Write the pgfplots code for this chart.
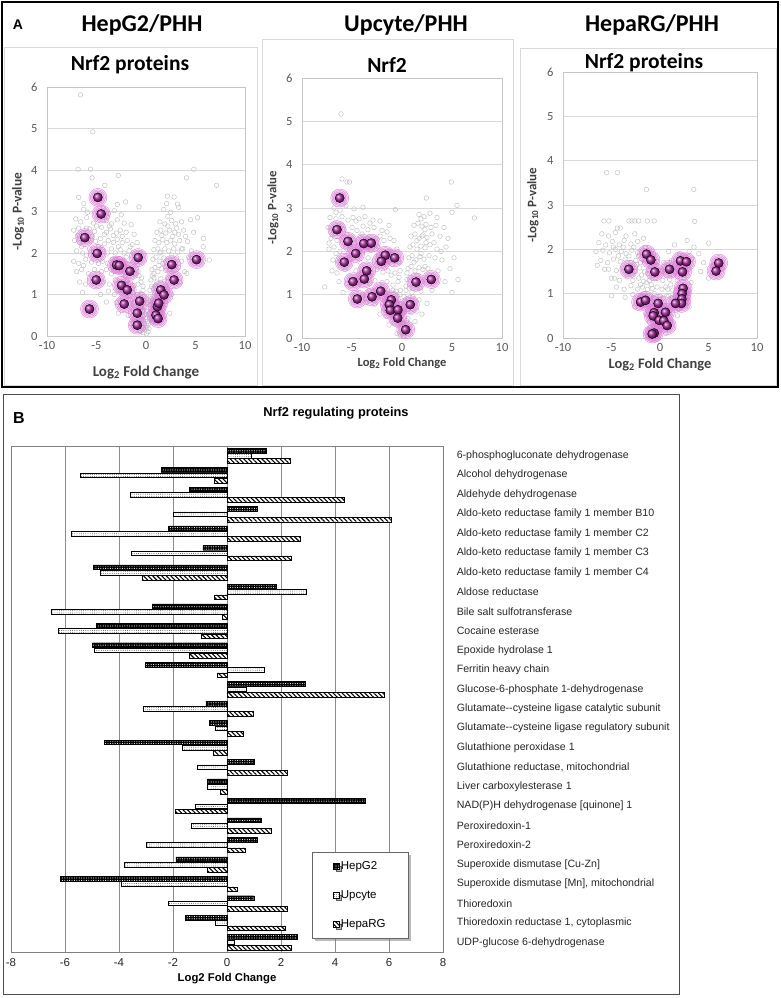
\documentclass[border=0pt]{standalone}
\usepackage{pgfplots}
\usepackage{pgfplotstable}
\pgfplotsset{compat=1.18}
\usepackage{fontspec}
\setmainfont{Liberation Sans}
\newfontfamily\carlito{Carlito}
\usetikzlibrary{patterns,patterns.meta,shadows}
\definecolor{gridgray}{RGB}{217,217,217}
\definecolor{ticktext}{RGB}{89,89,89}
\definecolor{labtext}{RGB}{64,64,64}
\definecolor{ballcol}{RGB}{165,45,155}
\definecolor{halo}{RGB}{222,125,218}
\definecolor{greypt}{RGB}{196,196,196}

% ---------- volcano data ----------
\pgfplotstableread[row sep=\\]{x y\\
-6.62 5.81\\ -5.37 4.92\\ -6.86 4.02\\ -5.6 4.02\\ -5.44 3.81\\ -2.8 3.87\\ -4.16 3.63\\ 4.83 4.02\\ 4.09 3.81\\ 7.13 3.63\\
2.16 3.37\\ 2.84 3.35\\ 2.09 3.19\\ 3.18 3.18\\ -0.71 3.11\\ -2.06 3.23\\ -2.9 3.17\\ -6.8 3.34\\ -6.28 3.19\\ 5.2 2.85\\
5.81 2.35\\ 6.39 1.83\\ 5.78 2.15\\ 4.12 1.51\\
-6.3 3.05\\ -5.9 2.98\\ -4.3 3.08\\ -3.8 2.95\\ -3.2 3.02\\ -2.5 2.92\\
-7.1 2.82\\ -6.6 2.75\\ -6.0 2.85\\ -5.3 2.72\\ -4.0 2.78\\ -3.5 2.7\\ -2.9 2.8\\ -2.2 2.72\\ -1.5 2.68\\
-7.3 2.55\\ -6.8 2.6\\ -6.3 2.5\\ -5.7 2.58\\ -5.2 2.52\\ -4.5 2.62\\ -4.0 2.5\\ -3.6 2.58\\ -3.0 2.48\\ -2.6 2.55\\ -2.0 2.5\\ -1.2 2.45\\
-7.2 2.3\\ -6.7 2.25\\ -5.6 2.3\\ -5.1 2.28\\ -4.6 2.35\\ -4.2 2.22\\ -3.8 2.3\\ -3.3 2.25\\ -2.9 2.33\\ -2.4 2.25\\ -1.9 2.3\\ -1.4 2.2\\ -0.9 2.25\\
-7.0 2.05\\ -6.4 2.0\\ -5.7 2.1\\ -5.3 2.02\\ -4.4 2.08\\ -3.9 2.0\\ -3.5 2.1\\ -3.1 2.0\\ -2.6 2.08\\ -2.2 2.0\\ -1.7 2.05\\ -1.2 1.98\\ -0.6 2.0\\
-7.3 1.8\\ -6.8 1.75\\ -6.1 1.85\\ -5.5 1.78\\ -4.4 1.8\\ -3.9 1.75\\ -3.4 1.85\\ -2.3 1.8\\ -1.9 1.75\\ -1.3 1.78\\ -0.9 1.7\\
-7.0 1.55\\ -6.5 1.6\\ -5.8 1.5\\ -4.5 1.55\\ -4.0 1.6\\ -3.5 1.5\\ -2.9 1.55\\ -2.4 1.48\\ -1.9 1.35\\ -1.1 1.5\\ -0.7 1.45\\
-6.7 1.3\\ -6.1 1.25\\ -4.3 1.3\\ -3.7 1.25\\ -3.1 1.35\\ -2.7 1.28\\ -1.6 1.3\\ -1.2 1.22\\ -0.8 1.25\\ -0.5 1.3\\
-6.4 1.05\\ -4.6 1.0\\ -3.8 1.08\\ -3.2 1.0\\ -2.8 1.1\\ -1.7 0.98\\ -1.3 1.05\\ -0.9 1.0\\ -0.5 1.02\\ -0.3 1.1\\
-4.0 0.82\\ -3.0 0.8\\ -2.6 0.85\\ -1.6 0.78\\ -1.2 0.82\\ -0.7 0.75\\ -0.4 0.8\\ -0.2 0.85\\
-2.8 0.55\\ -1.8 0.5\\ -1.3 0.58\\ -0.6 0.52\\ -0.35 0.6\\ -0.15 0.5\\
-1.5 0.3\\ -1.0 0.35\\ -0.5 0.28\\ -0.3 0.38\\ -0.1 0.3\\
-0.6 0.12\\ -0.3 0.08\\ -0.1 0.15\\ 0.05 0.05\\ 0.2 0.1\\
1.8 3.05\\ 2.5 2.98\\ 3.3 3.1\\ 2.2 2.88\\
1.4 2.75\\ 1.9 2.7\\ 2.6 2.78\\ 3.0 2.7\\ 3.6 2.75\\ 4.5 2.8\\
1.1 2.5\\ 1.5 2.55\\ 2.0 2.48\\ 2.4 2.55\\ 2.9 2.5\\ 3.3 2.45\\ 3.8 2.55\\ 4.8 2.5\\
0.9 2.3\\ 1.3 2.25\\ 1.7 2.32\\ 2.1 2.25\\ 2.5 2.3\\ 2.9 2.22\\ 3.4 2.3\\ 4.2 2.28\\
0.8 2.08\\ 1.2 2.1\\ 1.5 2.02\\ 1.9 2.1\\ 2.3 2.05\\ 2.8 2.1\\ 3.2 2.02\\ 3.7 2.1\\ 4.6 2.05\\
0.7 1.85\\ 1.0 1.9\\ 1.4 1.8\\ 1.8 1.88\\ 2.2 1.82\\ 3.1 1.88\\ 3.6 1.8\\ 4.3 1.9\\
0.6 1.6\\ 0.9 1.65\\ 1.2 1.55\\ 1.6 1.62\\ 2.0 1.58\\ 2.4 1.6\\ 3.3 1.65\\ 3.9 1.55\\
0.5 1.35\\ 0.8 1.4\\ 1.1 1.3\\ 1.5 1.38\\ 1.9 1.32\\ 2.3 1.4\\ 3.4 1.3\\
0.4 1.1\\ 0.7 1.15\\ 1.0 1.05\\ 1.3 1.12\\ 2.2 1.08\\ 2.6 1.0\\
0.3 0.85\\ 0.55 0.9\\ 0.85 0.82\\ 1.1 0.88\\ 1.7 0.85\\
0.2 0.6\\ 0.45 0.65\\ 0.7 0.58\\ 1.4 0.62\\ 2.4 0.55\\
0.15 0.35\\ 0.35 0.4\\ 0.6 0.32\\ 0.9 0.38\\ 0.1 0.2\\ 0.3 0.18\\
-0.45 1.4\\ -0.3 1.2\\ -0.2 0.95\\ -0.1 0.7\\ 0.0 0.45\\ 0.1 0.25\\ 0.25 0.5\\ 0.35 0.75\\ 0.45 0.95\\ 0.55 1.2\\ 0.65 1.45\\ -0.5 0.7\\ -0.05 0.2\\ 0.05 0.6\\ 0.2 0.8\\
-6.9 2.42\\ -6.5 2.15\\ -6.0 1.95\\ -5.4 2.4\\ -5.0 2.65\\ -4.8 2.15\\ -4.2 2.45\\ -3.7 2.65\\ -3.3 2.42\\ -2.8 2.15\\ -2.4 2.4\\ -2.0 1.9\\
-1.6 2.15\\ -1.0 1.85\\ -0.8 1.55\\ -3.0 1.85\\ -2.6 1.65\\ -2.1 1.45\\ -1.4 1.15\\ -1.0 0.9\\ -0.6 0.62\\ -0.45 0.4\\ -0.25 0.2\\
-4.8 1.75\\ -5.2 1.6\\ -6.3 1.7\\ -6.0 2.6\\ 1.6 2.42\\ 2.2 2.65\\ 2.7 2.4\\ 3.1 2.6\\ 1.4 2.0\\ 1.7 1.75\\ 2.6 1.95\\ 2.9 1.7\\
1.3 1.7\\ 0.8 1.5\\ 1.0 1.2\\ 0.7 0.95\\ 0.5 0.75\\ 0.35 0.55\\ 0.25 0.3\\ 2.0 1.2\\ 1.2 0.95\\ 3.6 2.1\\ 4.0 2.4\\
}\greyA
\pgfplotstableread[row sep=\\]{x y\\
-4.86 3.34\\ -4.53 2.94\\ -6.18 2.37\\ -4.93 1.99\\ -2.97 1.71\\ -2.70 1.70\\ -0.78 1.89\\ -1.62 1.56\\ -5.03 1.35\\ -2.47 1.22\\
-1.89 1.11\\ -5.71 0.65\\ -2.20 0.77\\ -0.64 0.84\\ -0.88 0.55\\ -0.88 0.26\\ 2.60 1.72\\ 2.84 1.35\\ 5.10 1.84\\ 1.49 1.11\\
1.82 0.99\\ 1.15 0.71\\ 1.28 0.79\\ 1.01 0.50\\ 1.22 0.42\\
}\magA

\pgfplotstableread[row sep=\\]{x y\\
-6.1 5.17\\ -5.5 3.6\\ -5.25 3.6\\ -6.0 3.67\\ 4.93 3.6\\ 2.43 3.23\\ 5.5 3.06\\ 7.23 2.77\\ -0.67 2.96\\ -7.73 1.18\\ -7.3 2.19\\
-6.8 3.0\\ -6.2 2.95\\ -5.6 3.05\\ -4.8 2.98\\ -3.9 3.02\\
-7.2 2.78\\ -6.6 2.75\\ -6.0 2.8\\ -5.4 2.72\\ -4.9 2.78\\ -4.3 2.75\\ -3.7 2.8\\ -2.9 2.72\\ -2.2 2.7\\
-7.4 2.55\\ -6.9 2.5\\ -6.3 2.58\\ -5.8 2.5\\ -5.0 2.55\\ -4.5 2.48\\ -3.9 2.58\\ -3.4 2.5\\ -2.8 2.55\\ -2.0 2.48\\ -1.5 2.45\\
-7.1 2.3\\ -6.5 2.25\\ -5.9 2.32\\ -4.9 2.28\\ -4.2 2.35\\ -3.5 2.25\\ -2.6 2.3\\ -2.2 2.35\\ -1.8 2.25\\ -1.2 2.3\\ -0.8 2.25\\
-7.3 2.05\\ -6.8 2.1\\ -6.2 2.0\\ -5.6 2.08\\ -4.3 2.0\\ -3.6 2.1\\ -3.1 2.02\\ -2.6 2.05\\ -1.3 2.0\\ -0.5 2.05\\
-6.9 1.8\\ -6.3 1.75\\ -5.2 1.82\\ -4.2 1.75\\ -3.4 1.85\\ -2.8 1.78\\ -2.3 1.72\\ -1.0 1.7\\ -0.3 1.75\\
-7.0 1.55\\ -6.5 1.5\\ -5.7 1.58\\ -4.6 1.55\\ -3.0 1.5\\ -2.5 1.58\\ -1.9 1.52\\ -1.4 1.55\\ -0.7 1.5\\ -0.2 1.55\\
-6.3 1.3\\ -5.5 1.25\\ -4.2 1.32\\ -3.2 1.25\\ -2.7 1.32\\ -2.0 1.28\\ -1.5 1.3\\ -0.9 1.22\\ -0.4 1.3\\
-5.9 1.05\\ -3.9 1.0\\ -3.3 1.1\\ -2.5 1.02\\ -1.7 1.05\\ -1.2 1.0\\ -0.6 1.08\\ -0.2 1.0\\
-3.6 0.82\\ -2.7 0.78\\ -1.9 0.8\\ -1.5 0.85\\ -0.8 0.75\\ -0.5 0.82\\ -0.1 0.8\\
-2.2 0.55\\ -1.6 0.5\\ -1.0 0.58\\ -0.7 0.5\\ -0.25 0.55\\
-1.3 0.3\\ -0.8 0.35\\ -0.4 0.28\\ -0.1 0.35\\
-0.5 0.1\\ -0.2 0.05\\ 0.0 0.12\\ 0.15 0.05\\
1.7 2.85\\ 2.2 2.8\\ 2.8 2.88\\ 3.5 2.78\\ 5.0 2.9\\
1.2 2.6\\ 1.6 2.65\\ 2.0 2.58\\ 2.4 2.62\\ 2.9 2.55\\ 3.4 2.6\\ 4.2 2.55\\
0.9 2.35\\ 1.3 2.4\\ 1.7 2.3\\ 2.1 2.38\\ 2.5 2.32\\ 3.0 2.4\\ 3.8 2.35\\ 4.6 2.3\\
0.8 2.1\\ 1.1 2.15\\ 1.5 2.05\\ 1.9 2.12\\ 2.3 2.08\\ 2.8 2.15\\ 3.5 2.05\\ 4.4 2.1\\
0.7 1.85\\ 1.0 1.9\\ 1.4 1.8\\ 1.8 1.88\\ 2.2 1.82\\ 2.7 1.9\\ 3.3 1.85\\ 4.0 1.8\\ 5.2 1.85\\
0.6 1.6\\ 0.9 1.65\\ 1.3 1.55\\ 1.7 1.62\\ 2.1 1.58\\ 2.6 1.6\\ 3.6 1.55\\ 4.8 1.6\\
0.5 1.35\\ 0.8 1.4\\ 1.2 1.32\\ 1.6 1.38\\ 2.0 1.3\\ 2.5 1.4\\ 4.3 1.3\\ 5.6 1.35\\
0.4 1.1\\ 0.7 1.15\\ 1.0 1.05\\ 1.4 1.12\\ 1.9 1.08\\ 3.0 1.1\\ 5.0 1.05\\
0.3 0.85\\ 0.6 0.9\\ 1.2 0.82\\ 1.7 0.88\\ 2.5 0.8\\
0.25 0.6\\ 0.5 0.65\\ 0.9 0.58\\ 1.5 0.62\\ 2.0 0.55\\
0.2 0.35\\ 0.45 0.4\\ 0.8 0.32\\ 1.3 0.38\\
-0.3 1.4\\ -0.15 1.1\\ 0.0 0.85\\ 0.1 0.6\\ 0.05 0.35\\ 0.3 0.15\\ 0.4 1.2\\ 0.5 1.5\\ 0.2 0.95\\
-6.6 2.9\\ -6.0 2.6\\ -5.5 2.4\\ -5.2 2.15\\ -4.6 2.7\\ -4.0 2.4\\ -3.2 2.65\\ -2.4 2.1\\ -2.0 1.9\\ -1.6 1.7\\ -1.1 1.45\\
-0.9 1.1\\ -0.6 0.9\\ -0.35 0.65\\ -0.2 0.4\\ -1.3 2.6\\ -5.4 1.95\\ -6.6 1.95\\ -7.0 2.4\\ 1.9 2.75\\ 2.3 2.5\\ 1.5 2.25\\
1.9 1.95\\ 2.4 2.2\\ 1.2 1.75\\ 1.5 1.45\\ 1.8 1.15\\ 1.1 0.95\\ 0.9 0.75\\ 0.6 0.45\\ 0.4 0.25\\ 3.2 2.2\\ 3.9 2.0\\ 2.3 1.65\\ 2.0 2.35\\
}\greyB
\pgfplotstableread[row sep=\\]{x y\\
-6.23 3.23\\ -6.5 2.5\\ -5.4 2.23\\ -3.83 2.18\\ -3.07 2.19\\ -4.63 1.95\\ -5.77 1.75\\ -1.67 1.91\\ -2.07 1.77\\ -0.73 1.85\\
-3.53 1.55\\ -3.77 1.36\\ -4.9 1.30\\ -4.47 0.9\\ -3.0 0.95\\ -2.13 1.08\\ -1.07 0.88\\ -1.27 0.77\\ -1.17 0.64\\ -0.4 0.65\\
-0.43 0.46\\ 0.83 0.77\\ 0.37 0.19\\ 1.4 1.29\\ 2.93 1.35\\
}\magB

\pgfplotstableread[row sep=\\]{x y\\
-5.5 3.73\\ -4.4 3.73\\ -1.39 3.35\\ 3.48 3.35\\ -5.78 2.64\\ -5.27 2.64\\ -3.2 2.64\\ -2.9 2.64\\ -2.6 2.64\\ -2.2 2.64\\
-1.3 2.64\\ -0.6 2.64\\ 3.58 2.63\\ -4.4 2.48\\ -4.1 2.48\\ 5.03 2.14\\ -6.47 1.64\\
-6.0 2.35\\ -5.3 2.3\\ -4.6 2.38\\ -3.5 2.3\\ -2.6 2.35\\ -1.7 2.25\\
-6.3 2.15\\ -5.6 2.1\\ -4.9 2.18\\ -4.2 2.1\\ -3.7 2.2\\ -3.0 2.12\\ -2.3 2.18\\ -1.5 2.05\\ 1.5 2.1\\ 2.8 2.2\\ 3.5 2.05\\
-6.6 1.95\\ -5.9 1.98\\ -5.2 1.92\\ -4.6 2.0\\ -4.0 1.95\\ -3.5 1.9\\ -2.9 1.98\\ -2.3 1.92\\ -1.8 1.98\\ 0.9 1.95\\ 2.0 1.9\\ 3.0 1.95\\ 4.0 1.9\\
-6.1 1.75\\ -5.4 1.7\\ -4.8 1.78\\ -4.1 1.72\\ -3.6 1.78\\ -3.0 1.7\\ -2.5 1.75\\ -2.0 1.7\\ -0.3 1.72\\ 1.2 1.75\\ 3.3 1.78\\ 4.5 1.7\\
-5.7 1.55\\ -4.5 1.52\\ -3.9 1.58\\ -2.6 1.5\\ -2.1 1.58\\ -1.6 1.5\\ -0.2 1.52\\ 0.5 1.55\\ 1.6 1.5\\ 3.0 1.55\\ 4.2 1.5\\ 5.0 1.35\\
-5.0 1.35\\ -4.2 1.3\\ -3.4 1.38\\ -2.8 1.3\\ -2.2 1.35\\ -1.7 1.28\\ -1.1 1.3\\ -0.5 1.35\\ 0.3 1.3\\ 1.0 1.32\\ 1.8 1.3\\ 3.2 1.25\\
-4.5 1.15\\ -3.7 1.1\\ -3.0 1.18\\ -2.3 1.1\\ -1.8 1.15\\ -1.3 1.1\\ -0.8 1.12\\ -0.3 1.15\\ 0.2 1.1\\ 0.6 1.15\\ 1.3 1.08\\ 1.9 1.12\\ 3.0 1.0\\
-5.0 0.95\\ -3.6 0.92\\ -2.8 0.98\\ -1.9 0.92\\ -1.1 0.95\\ -0.6 0.9\\ 0.0 0.95\\ 0.4 0.9\\ 0.9 0.95\\ 1.6 0.92\\ 2.7 0.9\\
-2.6 0.7\\ -1.2 0.75\\ -0.8 0.7\\ -0.3 0.72\\ 0.1 0.75\\ 0.6 0.7\\ 1.1 0.72\\ 3.0 0.7\\
-1.5 0.55\\ -0.9 0.5\\ -0.2 0.55\\ 0.3 0.52\\ 0.9 0.55\\ 1.8 0.5\\
-1.1 0.35\\ -0.5 0.3\\ 0.0 0.38\\ 0.5 0.3\\ 1.2 0.35\\
-0.9 0.15\\ -0.4 0.12\\ 0.1 0.18\\ 0.6 0.1\\
-1.0 1.6\\ -0.7 1.4\\ -0.5 1.7\\ -1.3 1.45\\ -0.9 1.2\\ 0.7 1.4\\ 0.9 1.65\\ 1.1 1.2\\ 0.4 1.7\\
-4.8 2.05\\ -4.3 1.85\\ -3.8 2.05\\ -3.2 1.85\\ -2.7 2.05\\ -2.2 1.85\\ -3.4 1.6\\ -2.9 1.45\\ -2.4 1.65\\ -1.9 1.42\\ -1.4 1.25\\
-2.0 1.2\\ -1.6 1.0\\ -1.3 0.8\\ -0.6 1.0\\ -0.4 0.5\\ -0.7 0.25\\ 0.3 0.7\\ 0.7 0.95\\ 0.8 1.1\\ 0.3 1.5\\ 1.4 1.4\\ 1.2 0.9\\
2.0 1.6\\ 2.5 1.35\\ -5.3 1.55\\ -4.7 1.35\\
}\greyC
\pgfplotstableread[row sep=\\]{x y\\
-3.21 1.55\\ -1.39 1.89\\ -0.94 1.76\\ -0.53 1.49\\ 0.98 1.55\\ 2.11 1.74\\ 2.73 1.72\\ 2.32 1.49\\ 6.05 1.69\\ 5.78 1.51\\
2.38 1.12\\ 2.28 1.0\\ 2.25 0.88\\ 2.21 0.78\\ 1.60 0.78\\ -2.0 0.81\\ -1.49 0.85\\ -0.19 0.78\\ 0.57 0.58\\ -0.6 0.57\\
-0.7 0.50\\ -0.09 0.4\\ 0.39 0.39\\ 0.74 0.28\\ -0.6 0.11\\ -0.81 0.09\\
}\magC

% ---------- bar data ----------
\pgfplotstableread{
i hep upc rg
0 1.47 0.89 2.34
1 -2.44 -5.43 -0.47
2 -1.39 -3.58 4.34
3 1.13 -2.01 6.09
4 -2.16 -5.78 2.70
5 -0.89 -3.53 2.37
6 -4.96 -4.71 -3.13
7 1.82 2.92 -0.47
8 -2.76 -6.51 -0.17
9 -4.85 -6.26 -0.94
10 -4.98 -4.91 -1.39
11 -3.03 1.36 -0.37
12 2.90 0.70 5.84
13 -0.78 -3.09 0.97
14 -0.65 -0.44 0.60
15 -4.55 -1.65 -0.51
16 1.01 -1.10 2.22
17 -0.74 -0.74 -0.25
18 5.13 -1.18 -1.91
19 1.27 -1.31 1.62
20 1.13 -3.00 0.69
21 -1.89 -3.80 -0.72
22 -6.17 -3.92 0.36
23 0.99 -2.16 2.22
24 -1.55 -0.44 2.17
25 2.61 0.27 2.39
}\bardata

\pgfplotsset{
  volc/.style={
    scale only axis, anchor=south west, clip=false,
    xmin=-10, xmax=10, ymin=0, ymax=6,
    xtick={-10,-5,0,5,10}, ytick={0,1,2,3,4,5,6},
    axis line style={draw=gray!45},
    ymajorgrids, grid style={gridgray, line width=0.6pt},
    major tick length=0pt,
    tick label style={font=\carlito\fontsize{12.5}{14}\selectfont, text=ticktext},
    xticklabel style={yshift=-2pt},
    yticklabel style={xshift=-6pt},
    /pgf/number format/assume math mode=true,
    xlabel={Log\textsubscript{2} Fold Change},
    ylabel={-Log\textsubscript{10} P-value},
  },
  greypts/.style={only marks, mark=o, mark size=2.3pt, color=greypt, mark options={draw=greypt, line width=0.5pt}},
  halo1/.style={only marks, mark=*, mark size=9pt, color=halo, mark options={draw=none, fill=halo, fill opacity=0.14}},
  halo2/.style={only marks, mark=*, mark size=7.6pt, color=halo, mark options={draw=none, fill=halo, fill opacity=0.2}},
  halo3/.style={only marks, mark=*, mark size=6.2pt, color=halo, mark options={draw=none, fill=halo, fill opacity=0.3}},
  balls/.style={only marks, mark=ball, mark size=4.6pt, mark options={ball color=ballcol}},
}

\begin{document}
\begin{tikzpicture}
\useasboundingbox (0pt,0pt) rectangle (780pt,998pt);

\begin{scope}[x=1pt,y=1pt]
% ================= Panel A =================
\draw[gray!30, line width=0.8pt] (4,613) rectangle (257,951);
\draw[gray!30, line width=0.8pt] (262,613) rectangle (513,959);
\draw[gray!30, line width=0.8pt] (520,613) rectangle (776,950);
\draw[black, line width=2pt] (2,611) rectangle (778,996);

\node[font=\bfseries\fontsize{14}{16}\selectfont] at (18,973) {A};
\node[font=\carlito\bfseries\fontsize{24}{28}\selectfont] at (142,973) {HepG2/PHH};
\node[font=\carlito\bfseries\fontsize{24}{28}\selectfont] at (406,973) {Upcyte/PHH};
\node[font=\carlito\bfseries\fontsize{24}{28}\selectfont] at (652,973) {HepaRG/PHH};

\node[font=\carlito\bfseries\fontsize{21.5}{25}\selectfont] at (130,933) {Nrf2 proteins};
\node[font=\carlito\bfseries\fontsize{21.5}{25}\selectfont] at (387,933) {Nrf2};
\node[font=\carlito\bfseries\fontsize{21.5}{25}\selectfont] at (644,935) {Nrf2 proteins};

% ================= Panel B frame =================
\draw[black!70, line width=0.8pt] (3,4) rectangle (679,604);
\node[font=\bfseries\fontsize{16}{18}\selectfont] at (19,580) {B};
\node[font=\bfseries\fontsize{12.8}{14}\selectfont] at (336,585) {Nrf2 regulating proteins};
\end{scope}

\begin{axis}[volc, at={(47pt,662pt)}, width=198pt, height=249pt,
  xlabel style={at={(axis description cs:0.5,-0.145)}, anchor=center, font=\carlito\bfseries\fontsize{15}{17}\selectfont, text=labtext},
  ylabel style={at={(axis description cs:-0.146,0.5)}, anchor=center, font=\carlito\bfseries\fontsize{13.5}{16}\selectfont, text=labtext}]
\addplot[greypts] table {\greyA};
\addplot[halo1] table {\magA};
\addplot[halo2] table {\magA};
\addplot[halo3] table {\magA};
\addplot[balls] table {\magA};
\end{axis}

\begin{axis}[volc, at={(302pt,660pt)}, width=200pt, height=260pt,
  xlabel style={at={(axis description cs:0.5,-0.096)}, anchor=center, font=\carlito\bfseries\fontsize{12.5}{15}\selectfont, text=labtext},
  ylabel style={at={(axis description cs:-0.145,0.5)}, anchor=center, font=\carlito\bfseries\fontsize{12.8}{15}\selectfont, text=labtext}]
\addplot[greypts] table {\greyB};
\addplot[halo1] table {\magB};
\addplot[halo2] table {\magB};
\addplot[halo3] table {\magB};
\addplot[balls] table {\magB};
\end{axis}

\begin{axis}[volc, at={(563pt,660pt)}, width=194pt, height=266pt,
  xlabel style={at={(axis description cs:0.5,-0.10)}, anchor=center, font=\carlito\bfseries\fontsize{14.5}{17}\selectfont, text=labtext},
  ylabel style={at={(axis description cs:-0.155,0.5)}, anchor=center, font=\carlito\bfseries\fontsize{13}{15}\selectfont, text=labtext}]
\addplot[greypts] table {\greyC};
\addplot[halo1] table {\magC};
\addplot[halo2] table {\magC};
\addplot[halo3] table {\magC};
\addplot[balls] table {\magC};
\end{axis}

\begin{axis}[at={(11pt,46pt)}, anchor=south west, scale only axis, width=432pt, height=506pt,
  xbar, bar shift=0pt, bar width=0.24,
  xmin=-8, xmax=8, xtick={-8,-6,-4,-2,0,2,4,6,8},
  ymin=-0.5, ymax=25.5, y dir=reverse, ytick={0,1,...,25},
  yticklabels={{6-phosphogluconate dehydrogenase},{Alcohol dehydrogenase},{Aldehyde dehydrogenase},
    {Aldo-keto reductase family 1 member B10},{Aldo-keto reductase family 1 member C2},
    {Aldo-keto reductase family 1 member C3},{Aldo-keto reductase family 1 member C4},
    {Aldose reductase},{Bile salt sulfotransferase},{Cocaine esterase},{Epoxide hydrolase 1},
    {Ferritin heavy chain},{Glucose-6-phosphate 1-dehydrogenase},
    {Glutamate-{}-cysteine ligase catalytic subunit},{Glutamate-{}-cysteine ligase regulatory subunit},
    {Glutathione peroxidase 1},{Glutathione reductase, mitochondrial},{Liver carboxylesterase 1},
    {NAD(P)H dehydrogenase [quinone] 1},{Peroxiredoxin-1},{Peroxiredoxin-2},
    {Superoxide dismutase [Cu-Zn]},{Superoxide dismutase [Mn], mitochondrial},{Thioredoxin},
    {Thioredoxin reductase 1, cytoplasmic},{UDP-glucose 6-dehydrogenase}},
  yticklabel pos=right,
  yticklabel style={anchor=west, xshift=6pt, font=\fontsize{10.6}{12}\selectfont, text=black!85},
  xticklabel style={font=\fontsize{11.5}{13}\selectfont, yshift=-3pt, text=black!85},
  /pgf/number format/assume math mode=true,
  tick style={draw=none},
  xmajorgrids, grid style={black!45, line width=0.5pt},
  axis line style={black!50},
  xlabel={Log2 Fold Change},
  xlabel style={at={(axis description cs:0.5,-0.053)}, anchor=center, font=\bfseries\fontsize{11.3}{12}\selectfont},
  legend image code/.code={\draw[#1] (0pt,-2.8pt) rectangle (5.6pt,2.8pt);},
  legend style={at={(0.697,0.198)}, anchor=north west, draw=black!60, fill=white,
    font=\fontsize{11.5}{13}\selectfont, row sep=16.5pt, inner xsep=21pt, inner ysep=8pt,
    drop shadow={shadow xshift=2.5pt, shadow yshift=-2.5pt, fill=black!55},
    legend cell align=left, nodes={inner sep=1.5pt}},
]
\addplot[draw=black, line width=0.4pt, fill=black, postaction={pattern={Dots[distance=2.4pt, radius=0.55pt]}, pattern color=white}]
  table[x=hep, y expr=\thisrow{i}-0.272] {\bardata};
\addplot[draw=black, line width=0.4pt, fill=white, postaction={pattern={Dots[distance=2.2pt, radius=0.45pt]}, pattern color=black!75}]
  table[x=upc, y expr=\thisrow{i}] {\bardata};
\addplot[draw=black, line width=0.4pt, fill=white, postaction={pattern={Lines[angle=-45, distance=3.2pt, line width=1.1pt]}, pattern color=black}]
  table[x=rg, y expr=\thisrow{i}+0.272] {\bardata};
\legend{HepG2,Upcyte,HepaRG}
\end{axis}
\end{tikzpicture}
\end{document}
